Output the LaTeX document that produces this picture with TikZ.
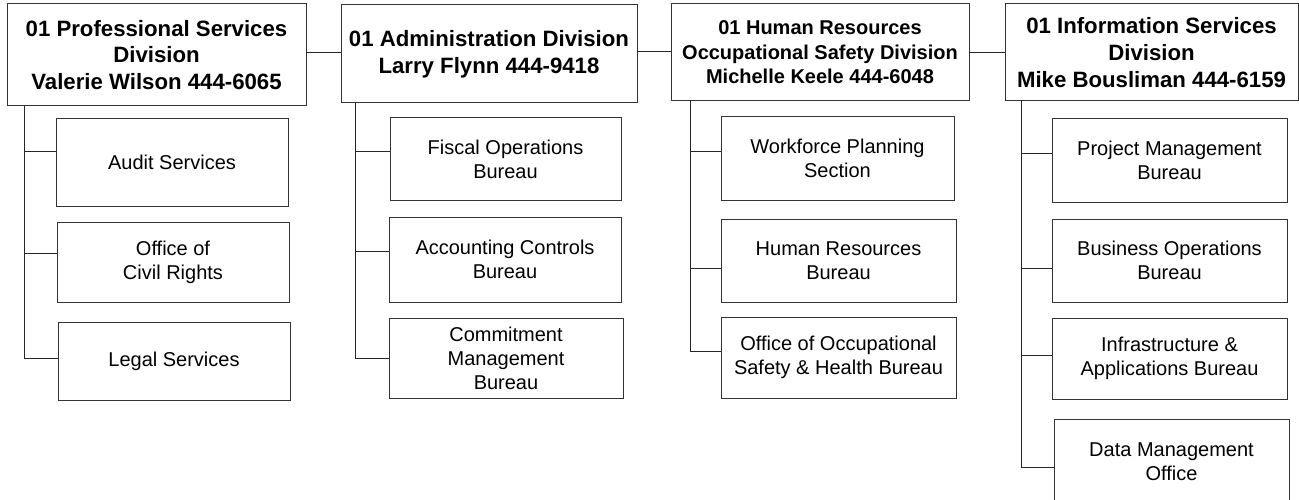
\documentclass[tikz,border=0pt]{standalone}
\usepackage{fontspec}
\setmainfont{Liberation Sans}
\begin{document}
\begin{tikzpicture}[x=1pt,y=-1pt,
  box/.style={draw=black!80, line width=1pt, rectangle, inner sep=0pt, outer sep=0pt, align=center, fill=white},
  divbox/.style={box, font=\fontsize{22.2}{26.7}\selectfont\bfseries},
  divboxs/.style={box, font=\fontsize{20}{24.5}\selectfont\bfseries},
  subbox/.style={box, font=\fontsize{20}{24}\selectfont},
  link/.style={draw=black!85, line width=1pt}]
\useasboundingbox[fill=white] (0,0) rectangle (1299,500);
% division heads
\node[divbox, minimum width=299pt, minimum height=102pt] (d1) at (156.5,55) {01 Professional Services\\Division\\Valerie Wilson 444-6065};
\node[divbox, minimum width=296pt, minimum height=98pt] (d2) at (489,54) {01 Administration Division\\Larry Flynn 444-9418};
\node[divboxs, minimum width=298pt, minimum height=97pt] (d3) at (820,52.5) {01 Human Resources\\Occupational Safety Division\\Michelle Keele 444-6048};
\node[divbox, minimum width=293pt, minimum height=97pt] (d4) at (1151.5,52.5) {01 Information Services\\Division\\Mike Bousliman 444-6159};
% column 1
\node[subbox, minimum width=232pt, minimum height=87pt] (c11) at (172,162.5) {Audit Services};
\node[subbox, minimum width=232pt, minimum height=80pt] (c12) at (173,262) {Office of\\Civil Rights};
\node[subbox, minimum width=232pt, minimum height=78pt] (c13) at (174,361) {Legal Services};
% column 2
\node[subbox, minimum width=231pt, minimum height=82pt] (c21) at (505.5,159) {Fiscal Operations\\Bureau};
\node[subbox, minimum width=232pt, minimum height=85pt] (c22) at (505,259.5) {Accounting Controls\\Bureau};
\node[subbox, minimum width=234pt, minimum height=80pt] (c23) at (506,358) {Commitment\\Management\\Bureau};
% column 3
\node[subbox, minimum width=233pt, minimum height=83pt] (c31) at (837.5,158.5) {Workforce Planning\\Section};
\node[subbox, minimum width=235pt, minimum height=83pt] (c32) at (838.5,260.5) {Human Resources\\Bureau};
\node[subbox, minimum width=235pt, minimum height=81pt] (c33) at (838.5,357.5) {Office of Occupational\\Safety \& Health Bureau};
% column 4
\node[subbox, minimum width=235pt, minimum height=83pt] (c41) at (1169.5,160.5) {Project Management\\Bureau};
\node[subbox, minimum width=235pt, minimum height=83pt] (c42) at (1169.5,260.5) {Business Operations\\Bureau};
\node[subbox, minimum width=235pt, minimum height=81pt] (c43) at (1169.5,358.5) {Infrastructure \&\\Applications Bureau};
\node[subbox, minimum width=235pt, minimum height=86pt] (c44) at (1171.5,462) {Data Management\\Office};
% links between division heads
\draw[link] ([yshift=2pt]d1.east) -- ([yshift=2pt]d1.east -| d2.west);
\draw[link] ([yshift=2pt]d2.east) -- ([yshift=2pt]d2.east -| d3.west);
\draw[link] (d3.east) -- (d3.east -| d4.west);
% column 1 links
\draw[link] ([xshift=17pt]d1.south west) |- ([yshift=10.5pt]c11.west);
\draw[link] ([xshift=17pt]d1.south west) |- ([yshift=9pt]c12.west);
\draw[link] ([xshift=17pt]d1.south west) |- ([yshift=3pt]c13.west);
% column 2 links
\draw[link] ([xshift=14pt]d2.south west) |- ([yshift=7pt]c21.west);
\draw[link] ([xshift=14pt]d2.south west) |- ([yshift=8.5pt]c22.west);
\draw[link] ([xshift=14pt]d2.south west) |- (c23.west);
% column 3 links
\draw[link] ([xshift=19pt]d3.south west) |- ([yshift=6.5pt]c31.west);
\draw[link] ([xshift=19pt]d3.south west) |- ([yshift=-7.5pt]c32.west);
\draw[link] ([xshift=19pt]d3.south west) |- ([yshift=6.5pt]c33.west);
% column 4 links
\draw[link] ([xshift=16pt]d4.south west) |- ([yshift=6.5pt]c41.west);
\draw[link] ([xshift=16pt]d4.south west) |- ([yshift=-7.5pt]c42.west);
\draw[link] ([xshift=16pt]d4.south west) |- ([yshift=3.5pt]c43.west);
\draw[link] ([xshift=16pt]d4.south west) |- ([yshift=-5pt]c44.west);
\end{tikzpicture}
\end{document}
